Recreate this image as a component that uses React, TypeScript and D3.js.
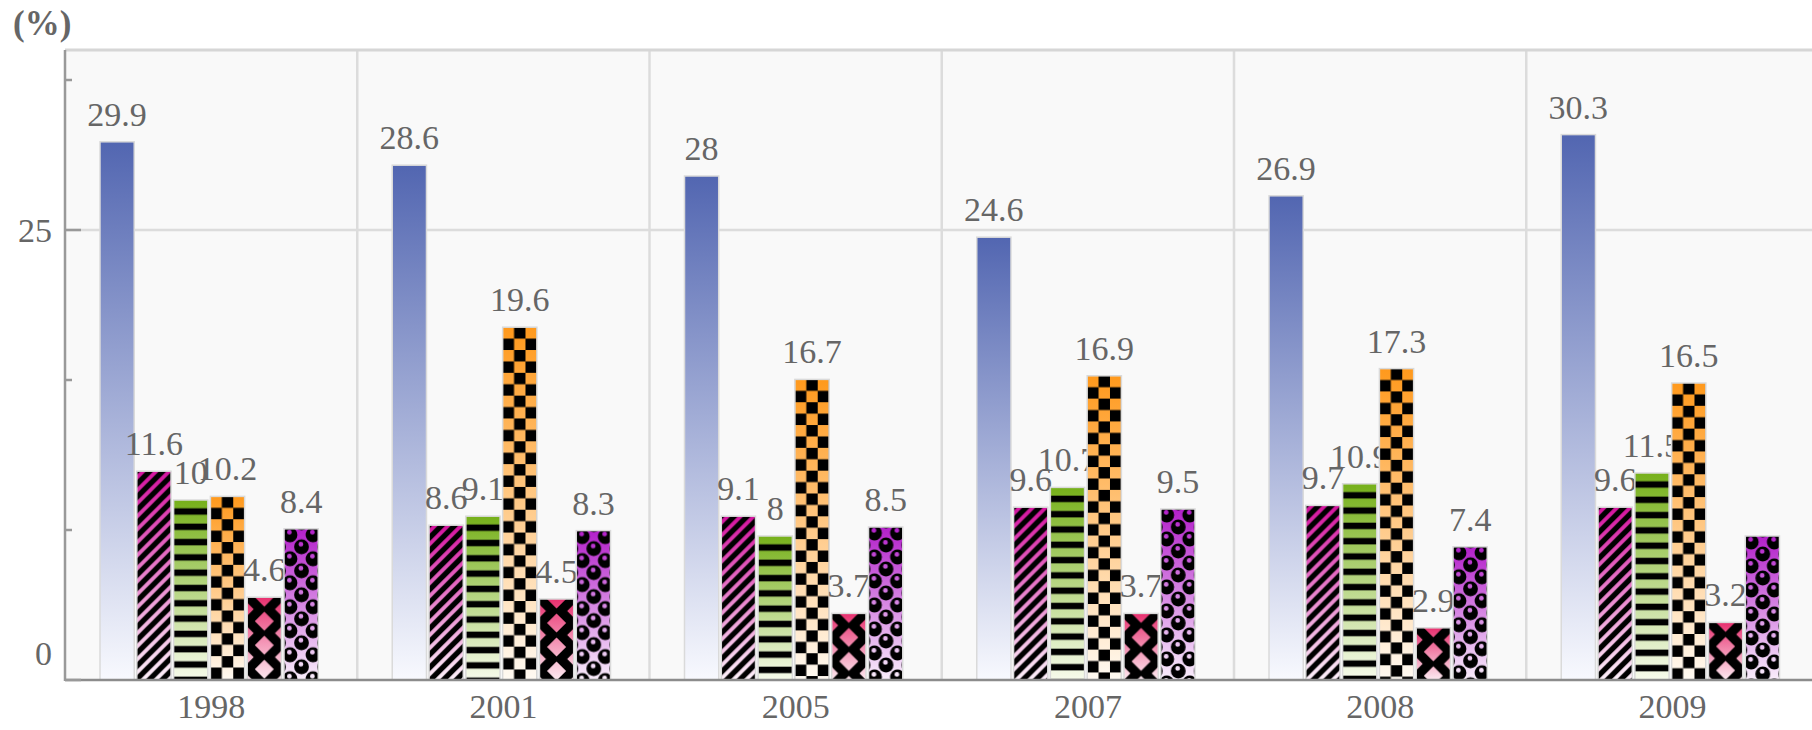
import React from 'react';
import * as d3 from 'd3';

// Categories (survey years) and the six series shown per year, in %
const categories = ['1998', '2001', '2005', '2007', '2008', '2009'];
const seriesA = [29.9, 28.6, 28, 24.6, 26.9, 30.3];
const seriesB = [11.6, 8.6, 9.1, 9.6, 9.7, 9.6];
const seriesC = [10, 9.1, 8, 10.7, 10.9, 11.5];
const seriesD = [10.2, 19.6, 16.7, 16.9, 17.3, 16.5];
const seriesE = [4.6, 4.5, 3.7, 3.7, 2.9, 3.2];
const seriesF = [8.4, 8.3, 8.5, 9.5, 7.4, 8.0];

const yLabelTicks = [0, 25];
const yUnit = '(%)';
// value labels that are not printed (series index, category)
const unlabeled = [{ series: 5, category: '2009' }];

const W = 1812;
const H = 730;
const LEFT = 65;
const TOP = 50;
const BOTTOM = 680;
const BAND = 292.25;
const FONT = '"Liberation Serif", "DejaVu Serif", serif';
const TEXT = '#666';

type Series = { key: string; values: number[]; top: string; bottom: string; pattern: string };

const series: Series[] = [
  { key: 'a', values: seriesA, top: '#5266b1', bottom: '#f8f9fe', pattern: '' },
  { key: 'b', values: seriesB, top: '#d5139f', bottom: '#fdf1fa', pattern: 'stripes' },
  { key: 'c', values: seriesC, top: '#76b01a', bottom: '#f7fbec', pattern: 'hlines' },
  { key: 'd', values: seriesD, top: '#ff991c', bottom: '#fffaf3', pattern: 'checker' },
  { key: 'e', values: seriesE, top: '#e8306f', bottom: '#fdeaf1', pattern: 'diamonds' },
  { key: 'f', values: seriesF, top: '#b31fca', bottom: '#f9eefb', pattern: 'bubbles' },
];

const circlePath = (cx: number, cy: number, r: number) =>
  `M${cx - r} ${cy}a${r} ${r} 0 1 0 ${2 * r} 0a${r} ${r} 0 1 0 ${-2 * r} 0Z`;
const diamondPath = (cx: number, cy: number, r: number) =>
  `M${cx} ${cy - r}L${cx + r} ${cy}L${cx} ${cy + r}L${cx - r} ${cy}Z`;

export default function App() {
  const x0 = d3.scaleBand<string>().domain(categories).range([LEFT, LEFT + BAND * categories.length]).padding(0);
  const x1 = d3
    .scaleBand<string>()
    .domain(series.map((s) => s.key))
    .range([35, x0.bandwidth() - 39])
    .paddingInner(0.07);
  const y = d3.scaleLinear().domain([0, 35]).range([BOTTOM, TOP]);
  const bw = x1.bandwidth();
  const minorTicks = d3.range(0, 35, 25 / 3);

  const sq = bw / 3;
  const diamondTileH = 24;
  const diamondD =
    `M0 0H${bw}V${diamondTileH}H0Z` +
    diamondPath(bw / 2, 0, 9.5) +
    diamondPath(bw / 2, diamondTileH, 9.5) +
    diamondPath(0, diamondTileH / 2, 6.5) +
    diamondPath(bw, diamondTileH / 2, 6.5);
  const bubbleD = (cx: number, cy: number) => circlePath(cx, cy, 7.4) + circlePath(cx - 0.6, cy - 2.6, 2.4);

  const isHidden = (si: number, cat: string) => unlabeled.some((u) => u.series === si && u.category === cat);

  return (
    <svg
      width={W}
      height={H}
      style={{ position: 'absolute', left: 0, top: 0, display: 'block', background: '#fff' }}
    >
      <defs>
        {series.map((s) => (
          <linearGradient key={s.key} id={`grad-${s.key}`} x1="0" y1="0" x2="0" y2="1">
            <stop offset="0" stopColor={s.top} />
            <stop offset="1" stopColor={s.bottom} />
          </linearGradient>
        ))}
        <pattern id="stripes" patternUnits="userSpaceOnUse" width={13} height={13}>
          <path d="M-3 3L3 -3M0 13L13 0M10 16L16 10" stroke="#000" strokeWidth={5.4} />
        </pattern>
        <pattern id="hlines" patternUnits="userSpaceOnUse" width={bw} height={15.3}>
          <rect x={0} y={8.3} width={bw} height={6.4} fill="#000" />
        </pattern>
        <pattern id="checker" patternUnits="userSpaceOnUse" width={2 * sq} height={2 * sq}>
          <rect x={sq} y={0} width={sq} height={sq} fill="#000" />
          <rect x={0} y={sq} width={sq} height={sq} fill="#000" />
        </pattern>
        <pattern id="diamonds" patternUnits="userSpaceOnUse" width={bw} height={diamondTileH}>
          <path d={diamondD} fill="#000" fillRule="evenodd" />
        </pattern>
        <pattern id="bubbles" patternUnits="userSpaceOnUse" width={23} height={24}>
          <path
            d={bubbleD(6, 6) + bubbleD(17.5, 18) + bubbleD(-5.5, 18) + bubbleD(6, 30) + bubbleD(29, 6) + bubbleD(17.5, -6)}
            fill="#000"
            fillRule="evenodd"
          />
        </pattern>
      </defs>

      {/* plot background */}
      <rect x={LEFT} y={TOP} width={W - LEFT} height={BOTTOM - TOP} fill="#f9f9f9" />

      {/* horizontal grid line at the labelled upper tick */}
      <line x1={LEFT} x2={W} y1={y(25)} y2={y(25)} stroke="#dcdcdc" strokeWidth={2.5} />

      {/* category separators */}
      {categories.slice(1).map((c) => (
        <line key={c} x1={x0(c)} x2={x0(c)} y1={TOP} y2={BOTTOM} stroke="#dcdcdc" strokeWidth={2.5} />
      ))}

      {/* top frame */}
      <line x1={LEFT} x2={W} y1={TOP} y2={TOP} stroke="#d6d6d6" strokeWidth={3} />

      {/* bars and value labels, series by series */}
      {series.map((s, si) => (
        <g key={s.key}>
          {categories.map((c, ci) => {
            const v = s.values[ci];
            const bx = (x0(c) as number) + (x1(s.key) as number);
            const by = y(v);
            const bh = y(0) - by;
            return (
              <g key={c} transform={`translate(${bx},${by})`}>
                <rect x={0} y={0} width={bw} height={bh} fill={`url(#grad-${s.key})`} />
                {s.pattern && <rect x={0} y={0} width={bw} height={bh} fill={`url(#${s.pattern})`} />}
                <rect x={0} y={0} width={bw} height={bh} fill="none" stroke="#dadada" strokeWidth={1.5} />
              </g>
            );
          })}
          {categories.map((c, ci) => {
            if (isHidden(si, c)) return null;
            const v = s.values[ci];
            const cx = (x0(c) as number) + (x1(s.key) as number) + bw / 2;
            return (
              <text
                key={`l-${c}`}
                x={cx}
                y={y(v) - 16}
                textAnchor="middle"
                fontFamily={FONT}
                fontSize={34}
                fill={TEXT}
              >
                {v}
              </text>
            );
          })}
        </g>
      ))}

      {/* axes */}
      <line x1={LEFT} x2={LEFT} y1={TOP} y2={BOTTOM + 1} stroke="#999" strokeWidth={2.5} />
      <line x1={LEFT} x2={W} y1={BOTTOM} y2={BOTTOM} stroke="#8c8c8c" strokeWidth={2.5} />
      {minorTicks.map((t) => (
        <line
          key={t}
          x1={LEFT}
          x2={LEFT + (yLabelTicks.includes(t) ? 16 : 7)}
          y1={y(t)}
          y2={y(t)}
          stroke="#999"
          strokeWidth={2.5}
        />
      ))}
      {yLabelTicks.map((t) => (
        <text
          key={t}
          x={52}
          y={Math.min(y(t), BOTTOM - 27)}
          dy="0.35em"
          textAnchor="end"
          fontFamily={FONT}
          fontSize={34}
          fill={TEXT}
        >
          {t}
        </text>
      ))}
      <text x={13} y={35} fontFamily={FONT} fontSize={35} fontWeight="bold" fill={TEXT}>
        {yUnit}
      </text>

      {/* category labels */}
      {categories.map((c) => (
        <text
          key={c}
          x={(x0(c) as number) + x0.bandwidth() / 2}
          y={718}
          textAnchor="middle"
          fontFamily={FONT}
          fontSize={34}
          fill={TEXT}
        >
          {c}
        </text>
      ))}
    </svg>
  );
}
